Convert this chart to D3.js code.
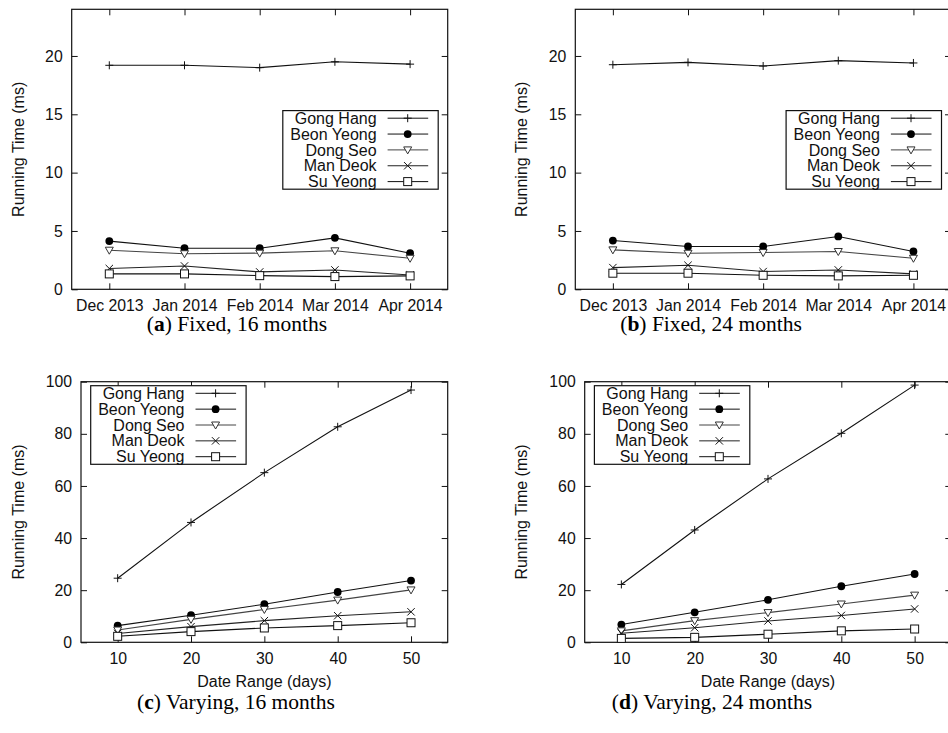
<!DOCTYPE html>
<html>
  <head>
    <meta charset="utf-8">
    <title>Running time</title>
    <script src="https://d3js.org/d3.v7.min.js"></script>
    <style>
      body { margin: 0; background: #fff; }
      text { font-family: "Liberation Sans", Arial, sans-serif; }
    </style>
  </head>
  <body>
    <script type="text/javascript">
      var months = ['Dec 2013', 'Jan 2014', 'Feb 2014', 'Mar 2014', 'Apr 2014'];
      var days = [10, 20, 30, 40, 50];
      var seriesNames = ['Gong Hang', 'Beon Yeong', 'Dong Seo', 'Man Deok', 'Su Yeong'];
      var fixedTicks = [0, 5, 10, 15, 20];
      var varyTicks = [0, 20, 40, 60, 80, 100];

      // one row per series, same order as seriesNames
      var fixed16 = [
        [19.2, 19.2, 19.0, 19.5, 19.3],
        [4.13, 3.52, 3.52, 4.41, 3.09],
        [3.35, 3.05, 3.1, 3.3, 2.66],
        [1.78, 2.0, 1.49, 1.66, 1.23],
        [1.32, 1.32, 1.17, 1.09, 1.15]
      ];
      var fixed24 = [
        [19.25, 19.45, 19.14, 19.6, 19.4],
        [4.18, 3.67, 3.67, 4.53, 3.24],
        [3.38, 3.09, 3.15, 3.24, 2.66],
        [1.86, 2.06, 1.52, 1.66, 1.32],
        [1.38, 1.38, 1.2, 1.15, 1.2]
      ];
      var vary16 = [
        [24.6, 46.0, 65.1, 82.7, 96.8],
        [6.4, 10.4, 14.6, 19.3, 23.7],
        [4.7, 8.8, 12.6, 16.2, 20.1],
        [3.4, 6.0, 8.3, 10.2, 11.7],
        [2.3, 4.1, 5.5, 6.4, 7.5]
      ];
      var vary24 = [
        [22.2, 43.1, 62.7, 80.2, 98.7],
        [6.8, 11.5, 16.3, 21.5, 26.2],
        [4.4, 8.3, 11.4, 14.7, 18.1],
        [3.5, 5.6, 8.2, 10.3, 12.8],
        [1.5, 1.9, 3.1, 4.4, 5.1]
      ];

      var svg = d3.select('body').append('svg')
                  .attr('width', 948)
                  .attr('height', 733);

      var panels = [
        {data: fixed16, cats: months, left: 71.7, right: 447.7, top: 9.3, bottom: 289.3,
         yMax: 24, yTicks: fixedTicks, key: 'rc', ylabX: 18, capX: 237, capY: 331,
         capB: 'a', capT: ' Fixed, 16 months'},
        {data: fixed24, cats: months, left: 575.3, right: 951, top: 9.3, bottom: 289.3,
         yMax: 24, yTicks: fixedTicks, key: 'rc', ylabX: 521, capX: 711, capY: 331,
         capB: 'b', capT: ' Fixed, 24 months'},
        {data: vary16, cats: null, left: 81, right: 447.7, top: 381.7, bottom: 642.3,
         yMax: 100, yTicks: varyTicks, key: 'lt', ylabX: 18, capX: 236, capY: 709,
         capB: 'c', capT: ' Varying, 16 months', xlab: 'Date Range (days)'},
        {data: vary24, cats: null, left: 584.7, right: 951.3, top: 381.7, bottom: 642.3,
         yMax: 100, yTicks: varyTicks, key: 'lt', ylabX: 521, capX: 712, capY: 709,
         capB: 'd', capT: ' Varying, 24 months', xlab: 'Date Range (days)'}
      ];

      function marker(g, k, x, y) {
        var c = '#111';
        if (k == 0) {
          g.append('path').attr('d', 'M' + (x - 4) + ',' + y + 'H' + (x + 4) + 'M' + x + ',' + (y - 4) + 'V' + (y + 4))
           .attr('stroke', c).attr('fill', 'none');
        } else if (k == 1) {
          g.append('circle').attr('cx', x).attr('cy', y).attr('r', 3.9).attr('fill', '#000');
        } else if (k == 2) {
          g.append('path').attr('d', 'M' + (x - 4) + ',' + (y - 3) + 'H' + (x + 4) + 'L' + x + ',' + (y + 4) + 'Z')
           .attr('stroke', '#333').attr('fill', '#fff');
        } else if (k == 3) {
          g.append('path').attr('d', 'M' + (x - 3.7) + ',' + (y - 3.7) + 'L' + (x + 3.7) + ',' + (y + 3.7) +
                                     'M' + (x - 3.7) + ',' + (y + 3.7) + 'L' + (x + 3.7) + ',' + (y - 3.7))
           .attr('stroke', c).attr('fill', 'none');
        } else {
          g.append('rect').attr('x', x - 4).attr('y', y - 4).attr('width', 8).attr('height', 8)
           .attr('stroke', c).attr('fill', '#fff');
        }
      }

      var lineColors = ['#111', '#111', '#444', '#222', '#111'];

      panels.forEach(function (p) {
        var g = svg.append('g');
        var x, xVals;
        if (p.cats) {
          x = d3.scaleLinear().domain([-0.5, p.cats.length - 0.5]).range([p.left, p.right]);
          xVals = d3.range(p.cats.length);
        } else {
          x = d3.scaleLinear().domain([5, 55]).range([p.left, p.right]);
          xVals = days;
        }
        var y = d3.scaleLinear().domain([0, p.yMax]).range([p.bottom, p.top]);

        var bottomAxis = d3.axisBottom(x).tickValues(xVals).tickSizeInner(-6).tickSizeOuter(0).tickPadding(10.3)
                           .tickFormat(function (d, i) { return p.cats ? p.cats[i] : d; });
        var leftAxis = d3.axisLeft(y).tickValues(p.yTicks).tickSizeInner(-6).tickSizeOuter(0).tickPadding(9);
        var topAxis = d3.axisTop(x).tickValues(xVals).tickSizeInner(-6).tickSizeOuter(0).tickFormat('');
        var rightAxis = d3.axisRight(y).tickValues(p.yTicks).tickSizeInner(-6).tickSizeOuter(0).tickFormat('');

        var axes = [
          [bottomAxis, 'translate(0,' + p.bottom + ')'],
          [leftAxis, 'translate(' + p.left + ',0)'],
          [topAxis, 'translate(0,' + p.top + ')'],
          [rightAxis, 'translate(' + p.right + ',0)']
        ];
        axes.forEach(function (a) {
          var ag = g.append('g').attr('transform', a[1]).call(a[0]);
          ag.select('.domain').remove();
          ag.selectAll('text').attr('font-family', '"Liberation Sans", Arial, sans-serif')
            .attr('font-size', 15.8).attr('fill', '#111');
          ag.selectAll('line').attr('stroke', '#111');
        });

        g.append('rect').attr('x', p.left).attr('y', p.top)
         .attr('width', p.right - p.left).attr('height', p.bottom - p.top)
         .attr('fill', 'none').attr('stroke', '#111').attr('stroke-width', 1.2);

        var line = d3.line().x(function (d, i) { return x(xVals[i]); }).y(function (d) { return y(d); });

        p.data.forEach(function (vals, k) {
          g.append('path').datum(vals).attr('d', line)
           .attr('fill', 'none').attr('stroke', lineColors[k]).attr('stroke-width', 1.1);
        });
        p.data.forEach(function (vals, k) {
          vals.forEach(function (v, i) { marker(g, k, x(xVals[i]), y(v)); });
        });

        // key box
        var boxW = 155.4, boxH = 78.6, bx, by;
        if (p.key == 'rc') {
          bx = p.right - 9.5 - boxW;
          by = (p.top + p.bottom) / 2 - boxH / 2 + 0.6;
        } else {
          bx = p.left + 9.7;
          by = p.top + 4;
        }
        var key = g.append('g');
        key.append('rect').attr('x', bx).attr('y', by).attr('width', boxW).attr('height', boxH)
           .attr('fill', '#fff').attr('stroke', '#111').attr('stroke-width', 1.2);
        seriesNames.forEach(function (name, k) {
          var ry = by + 7.6 + k * 15.85;
          key.append('text').attr('x', bx + boxW - 61.6).attr('y', ry + 5.6)
             .attr('text-anchor', 'end').attr('font-size', 16).attr('fill', '#111').text(name);
          key.append('line').attr('x1', bx + boxW - 50.6).attr('x2', bx + boxW - 10)
             .attr('y1', ry).attr('y2', ry).attr('stroke', lineColors[k]);
          marker(key, k, bx + boxW - 30.5, ry);
        });

        // axis titles
        var cy = (p.top + p.bottom) / 2;
        g.append('text').attr('transform', 'translate(' + p.ylabX + ',' + cy + ') rotate(-90)')
         .attr('dy', '0.35em').attr('text-anchor', 'middle').attr('font-size', 16).attr('fill', '#111')
         .text('Running Time (ms)');
        if (p.xlab) {
          g.append('text').attr('x', (p.left + p.right) / 2).attr('y', p.bottom + 45)
           .attr('text-anchor', 'middle').attr('font-size', 16).attr('fill', '#111').text(p.xlab);
        }

        // caption
        var cap = g.append('text').attr('x', p.capX).attr('y', p.capY).attr('text-anchor', 'middle')
                   .attr('font-size', 21.5).attr('fill', '#000')
                   .style('font-family', '"Liberation Serif", "DejaVu Serif", serif');
        cap.append('tspan').text('(');
        cap.append('tspan').attr('font-weight', 'bold').text(p.capB);
        cap.append('tspan').text(')' + p.capT);
      });
    </script>
  </body>
</html>
